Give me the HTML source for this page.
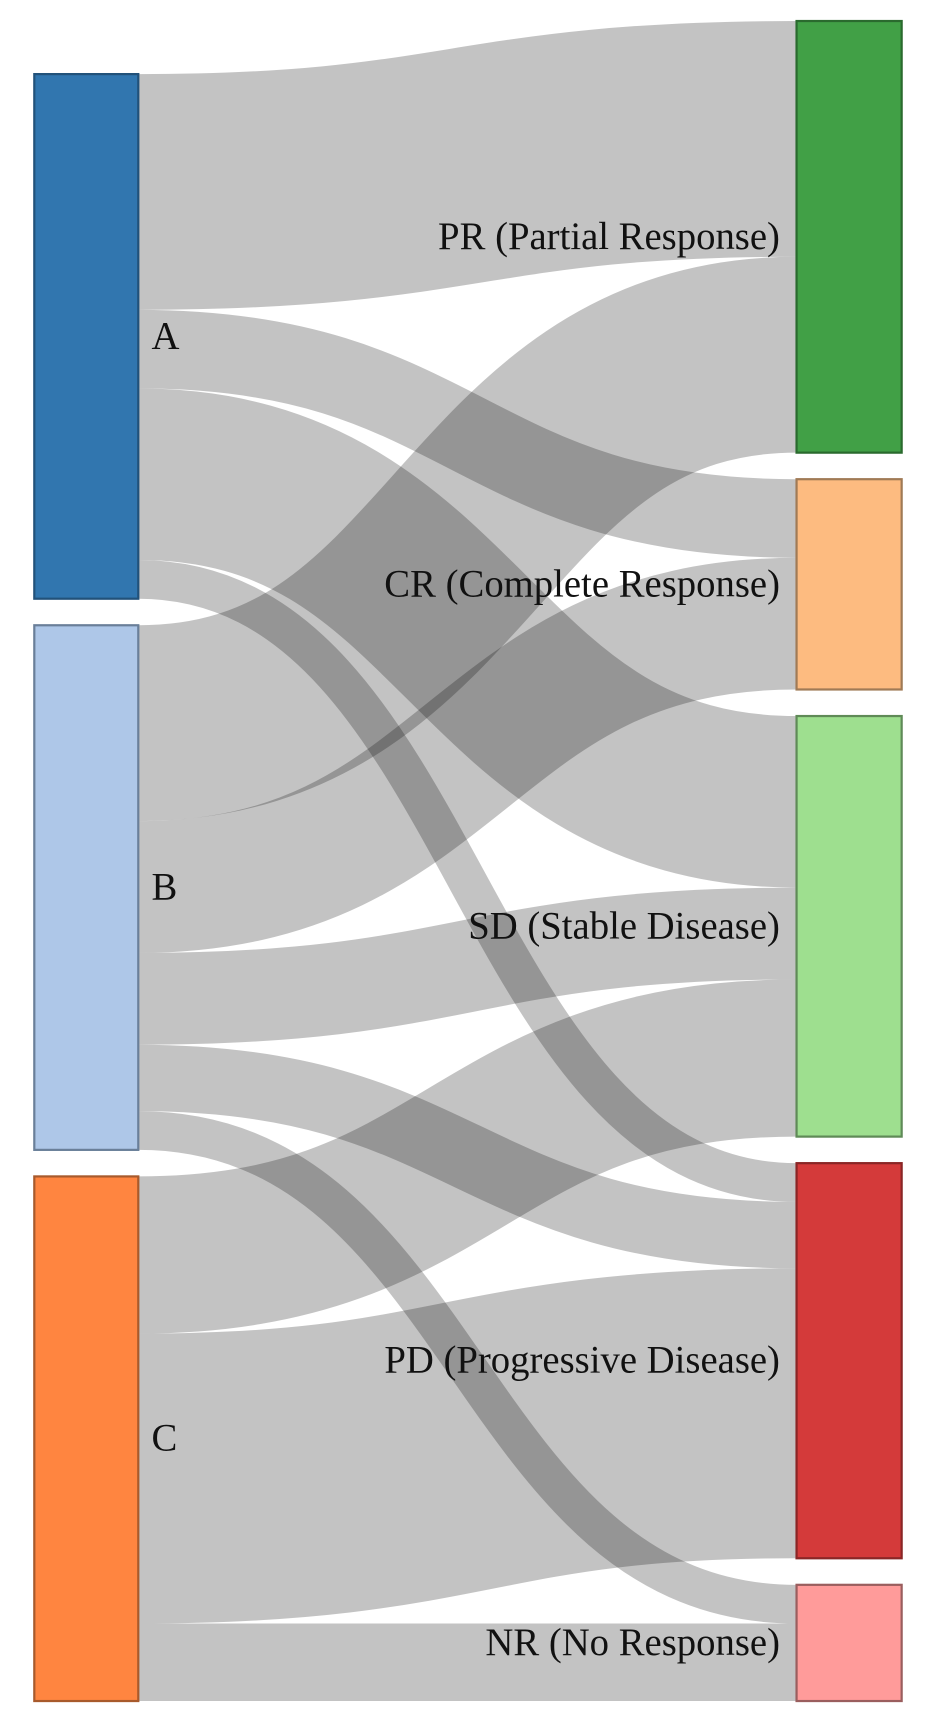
<!DOCTYPE html>
<html><head><meta charset="utf-8"><style>html,body{margin:0;padding:0;background:#fff}svg{display:block}</style></head>
<body>
<svg id="chart" width="926" height="1732" viewBox="0 0 837 1566" preserveAspectRatio="none" xmlns="http://www.w3.org/2000/svg">
<g id="links"></g>
<g id="nodes"></g>
</svg>
<script>
const sources = ["A","B","C"];
const sourceColors = ["#3176af","#aec7e8","#ff8540"];
const sourceStrokes = ["#22527a","#6a7f99","#a85a2c"];
const targets = ["PR (Partial Response)","CR (Complete Response)","SD (Stable Disease)","PD (Progressive Disease)","NR (No Response)"];
const targetColors = ["#41a046","#fdbb80","#9edf8f","#d43a3a","#ff9b9a"];
const targetStrokes = ["#2a6a2e","#a07a55","#5f8a57","#8a2626","#9a5e5e"];
// flow values: rows = sources, cols = targets
const flowA = [213,71,155,35,0];
const flowB = [177,119,83,60,35];
const flowC = [0,0,142,262,70];
const flows = [flowA,flowB,flowC];

const NS="http://www.w3.org/2000/svg";
const lx0=31,lx1=125,rx0=720,rx1=815,yTop=19,yBottom=1538,pad=24;
const srcTot=flows.map(r=>r.reduce((a,b)=>a+b,0));
const tgtTot=targets.map((t,j)=>flows.reduce((a,r)=>a+r[j],0));
const sumR=tgtTot.reduce((a,b)=>a+b,0), sumL=srcTot.reduce((a,b)=>a+b,0);
const k=Math.min((yBottom-yTop-pad*(targets.length-1))/sumR,(yBottom-yTop-pad*(sources.length-1))/sumL);
const tY=[];let yy=yTop;
tgtTot.forEach(v=>{tY.push(yy);yy+=v*k+pad;});
const sY=[];yy=yBottom-(sumL*k+pad*(sources.length-1));
srcTot.forEach(v=>{sY.push(yy);yy+=v*k+pad;});
const linksG=document.getElementById('links'),nodesG=document.getElementById('nodes');
const tOff=tgtTot.map(()=>0);
flows.forEach((row,i)=>{
  let sOff=0;
  row.forEach((v,j)=>{
    if(!v)return;
    const w=v*k;
    const y0=sY[i]+sOff+w/2, y1=tY[j]+tOff[j]+w/2;
    sOff+=w;tOff[j]+=w;
    const xm=(lx1+rx0)/2;
    const p=document.createElementNS(NS,'path');
    p.setAttribute('d',`M${lx1},${y0}C${xm},${y0} ${xm},${y1} ${rx0},${y1}`);
    p.setAttribute('fill','none');p.setAttribute('stroke','#000');
    p.setAttribute('stroke-opacity','0.235');p.setAttribute('stroke-width',w);
    
    
    linksG.appendChild(p);
  });
});
function rect(x,y,w,h,f,s,name){
  const r=document.createElementNS(NS,'rect');
  r.setAttribute('x',x);r.setAttribute('y',y);r.setAttribute('width',w);r.setAttribute('height',h);
  r.setAttribute('fill',f);r.setAttribute('stroke',s);r.setAttribute('stroke-width','2');
  
  
  nodesG.appendChild(r);
}
function text(x,y,t,anchor,name){
  const e=document.createElementNS(NS,'text');
  e.setAttribute('x',x);e.setAttribute('y',y);e.setAttribute('text-anchor',anchor);
  e.setAttribute('dominant-baseline','central');
  e.setAttribute('font-family','Liberation Serif, serif');e.setAttribute('font-size','35');
  e.setAttribute('fill','#111');
  
  
  e.textContent=t;nodesG.appendChild(e);
}
sources.forEach((s,i)=>{const h=srcTot[i]*k;rect(lx0,sY[i],lx1-lx0,h,sourceColors[i],sourceStrokes[i],'node-'+s.toLowerCase());text(137,sY[i]+h/2,s,'start','label-'+s.toLowerCase());});
targets.forEach((t,j)=>{const h=tgtTot[j]*k;const n=t.split(' ')[0].toLowerCase();rect(rx0,tY[j],rx1-rx0,h,targetColors[j],targetStrokes[j],'node-'+n);text(705,tY[j]+h/2,t,'end','label-'+n);});
</script>
</body></html>
